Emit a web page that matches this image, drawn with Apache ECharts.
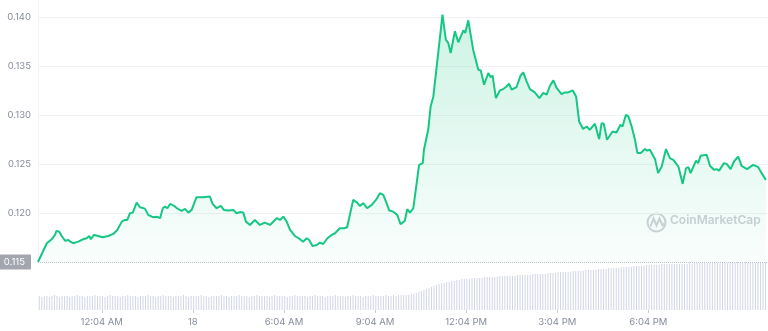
<!DOCTYPE html>
<html>
<head>
<meta charset="utf-8">
<script src="https://cdn.jsdelivr.net/npm/echarts@6/dist/echarts.min.js"></script>
<style>
html,body{margin:0;padding:0;background:#fff;}
#chart{width:768px;height:331px;}
</style>
</head>
<body>
<div id="chart"></div>
<script>
// Hours relative to 12:04 AM (day 18)
const priceTimes = [-2.10,-1.81,-1.65,-1.54,-1.49,-1.40,-1.32,-1.21,-1.10,-1.02,-0.94,-0.77,-0.61,-0.50,-0.41,-0.36,-0.26,-0.12,0.03,0.21,0.38,0.51,0.66,0.76,0.84,0.93,1.02,1.15,1.26,1.42,1.53,1.68,1.81,1.92,2.01,2.08,2.16,2.25,2.38,2.52,2.63,2.74,2.85,2.96,3.12,3.34,3.56,3.65,3.78,3.92,4.02,4.17,4.33,4.44,4.57,4.66,4.75,4.88,5.04,5.21,5.37,5.54,5.76,5.87,5.98,6.09,6.20,6.36,6.53,6.63,6.75,6.83,6.94,7.08,7.18,7.29,7.43,7.57,7.68,7.84,7.98,8.08,8.17,8.28,8.41,8.50,8.61,8.74,8.89,9.03,9.16,9.27,9.38,9.47,9.60,9.73,9.84,9.98,10.06,10.15,10.26,10.37,10.45,10.57,10.61,10.75,10.83,10.92,11.22,11.33,11.41,11.49,11.63,11.74,11.91,11.97,12.07,12.23,12.40,12.48,12.59,12.73,12.80,12.87,12.98,13.11,13.22,13.31,13.41,13.50,13.66,13.79,13.88,13.99,14.10,14.26,14.41,14.54,14.65,14.76,14.87,14.98,15.14,15.25,15.36,15.51,15.62,15.72,15.85,15.97,16.07,16.24,16.38,16.46,16.53,16.64,16.82,16.95,17.08,17.15,17.26,17.34,17.45,17.56,17.64,17.75,17.89,17.96,18.05,18.22,18.32,18.44,18.58,18.71,18.82,18.99,19.13,19.24,19.32,19.39,19.57,19.64,19.72,19.92,20.03,20.16,20.25,20.33,20.49,20.58,20.71,20.82,20.96,21.07,21.25,21.45,21.62,21.73,21.87];

const prices = [0.1150,0.11692,0.11733,0.11777,0.11818,0.11810,0.11766,0.11718,0.11725,0.11705,0.11692,0.11708,0.11733,0.11743,0.11766,0.11733,0.11777,0.11766,0.11753,0.11766,0.11787,0.11828,0.11913,0.11930,0.11930,0.11999,0.12005,0.12108,0.12060,0.12046,0.11982,0.11958,0.11964,0.11948,0.12050,0.12067,0.12050,0.12094,0.12074,0.12040,0.12023,0.12043,0.12005,0.12033,0.12163,0.12163,0.12169,0.12094,0.12050,0.12074,0.12033,0.12026,0.12033,0.11999,0.12012,0.12005,0.11913,0.11879,0.11930,0.11879,0.11903,0.11879,0.11948,0.11930,0.11964,0.11913,0.11828,0.11766,0.11733,0.11708,0.11743,0.11725,0.11664,0.11674,0.11698,0.11684,0.11743,0.11777,0.11794,0.11845,0.11845,0.11856,0.11982,0.12135,0.12108,0.12074,0.12101,0.12050,0.12084,0.12135,0.12204,0.12186,0.12101,0.12026,0.12015,0.11982,0.11886,0.11923,0.12040,0.12005,0.12050,0.12306,0.12494,0.12511,0.12648,0.12852,0.13091,0.13194,0.14031,0.13775,0.13741,0.13638,0.13860,0.13747,0.13870,0.13843,0.13972,0.13672,0.13467,0.13460,0.13314,0.13433,0.13392,0.13406,0.13177,0.13255,0.13269,0.13290,0.13324,0.13262,0.13290,0.13406,0.13440,0.13347,0.13269,0.13235,0.13177,0.13229,0.13211,0.13303,0.13358,0.13280,0.13218,0.13235,0.13235,0.13255,0.13194,0.12938,0.12860,0.12886,0.12852,0.12914,0.12757,0.12921,0.12914,0.12750,0.12835,0.12825,0.12904,0.12886,0.13006,0.12989,0.12886,0.12750,0.12614,0.12614,0.12655,0.12640,0.12648,0.12552,0.12409,0.12476,0.12655,0.12562,0.12545,0.12476,0.12299,0.12460,0.12470,0.12409,0.12538,0.12511,0.12586,0.12596,0.12484,0.12443,0.12450,0.12435,0.12511,0.12504,0.12450,0.12528,0.12579,0.12484,0.12450,0.12494,0.12470,0.12409,0.12340];

const openPrice = 0.115;

// 5-minute volume bars (relative units)
const volumes = [
14,13,14,14,13,14,15,14,13,14,14,14,13,14,14,15,14,14,13,14,14,14,15,14,
14,14,13,14,15,14,14,14,13,14,14,15,14,14,14,13,14,14,14,15,14,14,13,14,
14,15,14,14,14,13,14,14,14,15,14,13,14,14,14,14,15,14,14,13,14,14,14,14,
15,14,14,13,14,14,14,15,14,14,14,13,14,14,15,14,14,14,14,13,14,15,14,14,
14,14,13,14,14,15,14,14,14,14,13,14,14,15,14,14,14,13,14,14,14,15,14,14,
14,13,14,14,15,14,14,14,13,14,14,14,15,14,14,14,14,15,14,14,15,14,15,15,
15,15,15,16,16,17,18,19,20,21,22,23,24,25,26,27,27,28,28,29,29,30,30,31,
31,31,31,32,32,32,32,32,33,33,33,33,33,33,34,34,34,34,34,34,34,35,35,35,
35,35,35,36,36,36,36,36,36,37,37,37,37,38,38,38,38,38,38,39,39,39,39,39,
40,40,40,40,40,41,41,41,41,42,42,42,42,42,43,43,43,43,43,44,44,44,44,44,
45,45,45,45,45,45,46,46,46,46,46,46,46,46,46,46,46,47,46,47,47,47,47,47,
47,47,47,47,47,47,47,47,47,47,47,47,48,47,47,48,47,47,47,47,48,47,47,48
];
const volStart = -2.1;      // window start (hours rel. 12:04 AM)
const volStep = 1 / 12;     // 5 minutes

const tickHours = [0, 3, 6, 9, 12, 15, 18];
const tickLabels = ['12:04 AM', '18', '6:04 AM', '9:04 AM', '12:04 PM', '3:04 PM', '6:04 PM'];
const yTicks = [0.115, 0.120, 0.125, 0.130, 0.135, 0.140];

const priceData = priceTimes.map((t, i) => [t, prices[i]]);
const volData = volumes.map((v, i) => [volStart + (i + 0.5) * volStep, v]);

const chart = echarts.init(document.getElementById('chart'), null, {renderer: 'canvas'});
const FONT = 'Inter, "Noto Sans", sans-serif';
const X_MIN = -2.1, X_MAX = 21.94;

chart.setOption({
  animation: false,
  grid: [
    {left: 38, right: 0, top: 0, bottom: 69, outerBoundsMode: 'none', containLabel: false},
    {left: 38, right: 0, top: 262, bottom: 21, outerBoundsMode: 'none', containLabel: false}
  ],
  xAxis: [
    {type: 'value', gridIndex: 0, min: X_MIN, max: X_MAX,
     axisLine: {show: false, onZero: false}, axisTick: {show: false}, axisLabel: {show: false}, splitLine: {show: false}},
    {type: 'value', gridIndex: 1, min: X_MIN, max: X_MAX,
     axisLine: {show: false, onZero: false},
     axisTick: {show: true, length: 3, customValues: tickHours, lineStyle: {color: '#c9ccd3'}},
     axisLabel: {show: true, customValues: tickHours, margin: 7, color: '#858c9c',
       fontFamily: FONT, fontSize: 9.5,
       formatter: v => { const k = tickHours.indexOf(Math.round(v)); return k >= 0 ? tickLabels[k] : ''; }},
     splitLine: {show: false}}
  ],
  yAxis: [
    {type: 'value', gridIndex: 0, min: 0.115, max: 0.1418, interval: 0.005,
     axisLine: {show: true, onZero: false, lineStyle: {color: '#f0f1f4'}},
     axisTick: {show: false},
     splitLine: {show: true, showMinLine: false, showMaxLine: false, lineStyle: {color: '#f1f2f5'}},
     axisLabel: {show: true, showMaxLabel: false, margin: 7, color: '#858c9c', fontFamily: FONT, fontSize: 9.5,
       formatter: v => {
         const k = yTicks.findIndex(t => Math.abs(t - v) < 1e-6);
         if (k < 0) return '';
         const s = yTicks[k].toFixed(3);
         return k === 0 ? '{open|' + s + '}' : s;
       },
       rich: {open: {color: '#fff', backgroundColor: '#a3a6ae', padding: [3, 6, 2, 6],
                     fontFamily: FONT, fontSize: 9.5, borderRadius: 1}}}},
    {type: 'value', gridIndex: 1, min: 0, max: 48,
     axisLine: {show: false, onZero: false}, axisTick: {show: false}, axisLabel: {show: false}, splitLine: {show: false}}
  ],
  series: [
    {type: 'bar', xAxisIndex: 1, yAxisIndex: 1, data: volData, barWidth: 1,
     itemStyle: {color: '#d2d6e5'}, silent: true},
    {type: 'line', xAxisIndex: 0, yAxisIndex: 0, data: priceData, showSymbol: false, smooth: false,
     lineStyle: {color: '#16c784', width: 2},
     areaStyle: {origin: 'start', color: new echarts.graphic.LinearGradient(0, 0, 0, 1, [
       {offset: 0, color: 'rgba(22,199,132,0.30)'},
       {offset: 1, color: 'rgba(22,199,132,0.03)'}
     ])},
     markLine: {silent: true, symbol: ['none', 'none'], label: {show: false},
       lineStyle: {type: 'dotted', color: '#bfc3cd', width: 1},
       data: [[{coord: [X_MIN, openPrice]}, {coord: [X_MAX, openPrice]}]]},
     z: 3}
  ],
  graphic: [
    {type: 'group', left: 645, top: 211, silent: true, children: [
      {type: 'circle', shape: {cx: 10, cy: 10, r: 9}, style: {fill: 'none', stroke: '#cfd2d8', lineWidth: 2}},
      {type: 'polyline', shape: {points: [[4, 14], [7, 6], [10, 13], [13, 6], [16, 13], [18, 11]]},
       style: {fill: 'none', stroke: '#cfd2d8', lineWidth: 2}}
    ]},
    {type: 'text', left: 670, top: 214, silent: true,
     style: {text: 'CoinMarketCap', fill: '#cdd0d6', font: '600 12px Inter, sans-serif'}}
  ]
});
</script>
</body>
</html>
